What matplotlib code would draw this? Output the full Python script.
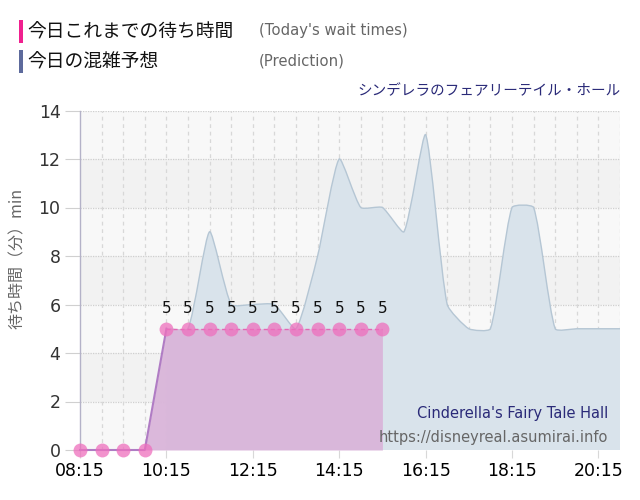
import numpy as np
import matplotlib
matplotlib.use("Agg")
import matplotlib.pyplot as plt
from matplotlib.path import Path
from matplotlib.patches import PathPatch, Rectangle

# ---------------- data ----------------
actual_times = ["08:15", "08:45", "09:15", "09:45", "10:15", "10:45", "11:15", "11:45",
                "12:15", "12:45", "13:15", "13:45", "14:15", "14:45", "15:15"]
actual_values = [0, 0, 0, 0, 5, 5, 5, 5, 5, 5, 5, 5, 5, 5, 5]

pred_times = ["10:15", "10:45", "11:15", "11:45", "12:15", "12:45", "13:15", "13:45",
              "14:15", "14:45", "15:15", "15:45", "16:15", "16:45", "17:15", "17:45",
              "18:15", "18:45", "19:15", "19:45", "20:15", "20:45"]
pred_values = [5, 5, 9, 6, 6, 6, 5, 8, 12, 10, 10, 9, 13, 6, 5, 5, 10, 10, 5, 5, 5, 5]

x_tick_labels = ["08:15", "10:15", "12:15", "14:15", "16:15", "18:15", "20:15"]
y_ticks = [0, 2, 4, 6, 8, 10, 12, 14]

title_jp = "シンデレラのフェアリーテイル・ホール"
title_en = "Cinderella's Fairy Tale Hall"
site = "https://disneyreal.asumirai.info"
legend_actual = ("今日これまでの待ち時間", "(Today's wait times)")
legend_pred = ("今日の混雑予想", "(Prediction)")
ylabel = "待ち時間（分）min"


def to_h(s):
    h, m = s.split(":")
    return int(h) + int(m) / 60.0


ax_x = np.array([to_h(t) for t in actual_times])
ax_y = np.array(actual_values, dtype=float)
px = np.array([to_h(t) for t in pred_times])
py = np.array(pred_values, dtype=float)

JP = ["Noto Sans CJK JP", "DejaVu Sans"]
plt.rcParams["font.family"] = ["DejaVu Sans", "Noto Sans CJK JP"]

W, H = 640, 500
fig = plt.figure(figsize=(W / 100, H / 100), dpi=100)
L, R, T, B = 80, 620, 110.5, 450
ax = fig.add_axes([L / W, 1 - B / H, (R - L) / W, (B - T) / H])

xmin, xmax = to_h("08:15"), to_h("20:45")
ax.set_xlim(xmin, xmax)
ax.set_ylim(0, 14)
ax.set_facecolor("#f8f8f8")
for lo in (2, 6, 10):
    ax.axhspan(lo, lo + 2, color="#f2f2f2", zorder=0, lw=0)

# grid
for v in y_ticks[1:]:
    ax.axhline(v, color="#cfcfcf", lw=0.9, ls=(0, (1, 1)), zorder=1)
ax.axhline(0, color="#dddddd", lw=1.2, zorder=1)
halfhours = np.arange(xmin, xmax + 1e-6, 0.5)
for v in halfhours[1:]:
    ax.axvline(v, color="#d8d8d8", lw=0.9, ls=(0, (3, 3)), zorder=1)

# spline like Chart.js (low tension), computed in pixel-like units
sx = (R - L) / (xmax - xmin)
sy = (B - T) / 14.0
def spline_path(xs, ys, t=0.18):
    X = xs * sx
    Y = ys * sy
    n = len(X)
    cin = [None] * n
    cout = [None] * n
    for i in range(n):
        p0 = i - 1 if i > 0 else i
        p2 = i + 1 if i < n - 1 else i
        d01 = np.hypot(X[i] - X[p0], Y[i] - Y[p0])
        d12 = np.hypot(X[p2] - X[i], Y[p2] - Y[i])
        tot = d01 + d12
        s01 = d01 / tot if tot else 0
        s12 = d12 / tot if tot else 0
        fa, fb = t * s01, t * s12
        dx, dy = X[p2] - X[p0], Y[p2] - Y[p0]
        cin[i] = (X[i] - fa * dx, min(max(Y[i] - fa * dy, 0), 14 * sy))
        cout[i] = (X[i] + fb * dx, min(max(Y[i] + fb * dy, 0), 14 * sy))
    verts = [(X[0], Y[0])]
    codes = [Path.MOVETO]
    for i in range(n - 1):
        verts += [cout[i], cin[i + 1], (X[i + 1], Y[i + 1])]
        codes += [Path.CURVE4] * 3
    verts = np.array(verts)
    verts[:, 0] /= sx
    verts[:, 1] /= sy
    return verts, codes

verts, codes = spline_path(px, py)
fverts = np.vstack([[px[0], 0], verts, [px[-1], 0], [px[0], 0]])
fcodes = [Path.MOVETO, Path.LINETO] + codes[1:] + [Path.LINETO, Path.CLOSEPOLY]
ax.add_patch(PathPatch(Path(fverts, fcodes), facecolor="#d9e3eb", edgecolor="none", zorder=2))
ax.add_patch(PathPatch(Path(verts, codes), facecolor="none", edgecolor="#b5c6d4", lw=1.0, zorder=2.1))

# actual series
ax.fill_between(ax_x, ax_y, 0, color="#dab6da", alpha=0.97, lw=0, zorder=3)
ax.plot(ax_x[:5], ax_y[:5], color="#b07cc4", lw=1.5, zorder=4, clip_on=False)
ax.plot(ax_x[4:], ax_y[4:], color="#e466b6", lw=1.0, ls=(0, (3, 2)), zorder=4)
ax.plot(ax_x, ax_y, ls="none", marker="o", ms=10, mfc="#ee6fbd", mec="none",
        alpha=0.75, zorder=5, clip_on=False)
for xv, yv in zip(ax_x, ax_y):
    if yv > 0:
        ax.annotate(f"{yv:g}", (xv, yv), xytext=(0, 9), textcoords="offset points",
                    ha="center", va="bottom", fontsize=11, color="#111111", zorder=6)

# axes styling
for s in ("top", "right", "bottom"):
    ax.spines[s].set_visible(False)
ax.spines["left"].set_color("#b4b2c8")
ax.spines["left"].set_linewidth(1.0)
ax.set_yticks(y_ticks)
ax.set_yticklabels([str(v) for v in y_ticks], fontsize=12.5, color="#333333")
ax.set_xticks([to_h(t) for t in x_tick_labels])
ax.set_xticklabels(x_tick_labels, fontsize=12.5, color="#000000")
ax.tick_params(axis="y", length=11, color="#d0d0d0", pad=3)
ax.tick_params(axis="x", length=6, color="#d8d8d8", pad=3)
ax.set_ylabel(ylabel, family=JP, fontsize=11.5, color="#666666")
ax.yaxis.set_label_coords(-0.1, 0.565)

# in-plot text
ax.text(0.978, 0.085, title_en, transform=ax.transAxes, ha="right", va="bottom",
        fontsize=10.5, color="#2a2a78", zorder=7)
ax.text(0.978, 0.015, site, transform=ax.transAxes, ha="right", va="bottom",
        fontsize=10.5, color="#666666", zorder=7)

# header
fig.text(621 / W, 1 - 91 / H, title_jp, family=JP, ha="right", va="center",
         fontsize=10.5, color="#2a2a78")
fig.patches.append(Rectangle((19 / W, 1 - 43 / H), 4 / W, 23 / H, transform=fig.transFigure,
                             facecolor="#f0208f", edgecolor="none"))
fig.patches.append(Rectangle((19 / W, 1 - 73 / H), 4 / W, 23 / H, transform=fig.transFigure,
                             facecolor="#5d6a9c", edgecolor="none"))
fig.text(27 / W, 1 - 32 / H, legend_actual[0], family=JP, ha="left", va="center",
         fontsize=13.5, color="#111111")
fig.text(259 / W, 1 - 31 / H, legend_actual[1], ha="left", va="center",
         fontsize=10.7, color="#666666")
fig.text(27 / W, 1 - 62 / H, legend_pred[0], family=JP, ha="left", va="center",
         fontsize=13.5, color="#111111")
fig.text(259 / W, 1 - 61 / H, legend_pred[1], ha="left", va="center",
         fontsize=10.7, color="#666666")

fig.savefig("out.png", dpi=100)
